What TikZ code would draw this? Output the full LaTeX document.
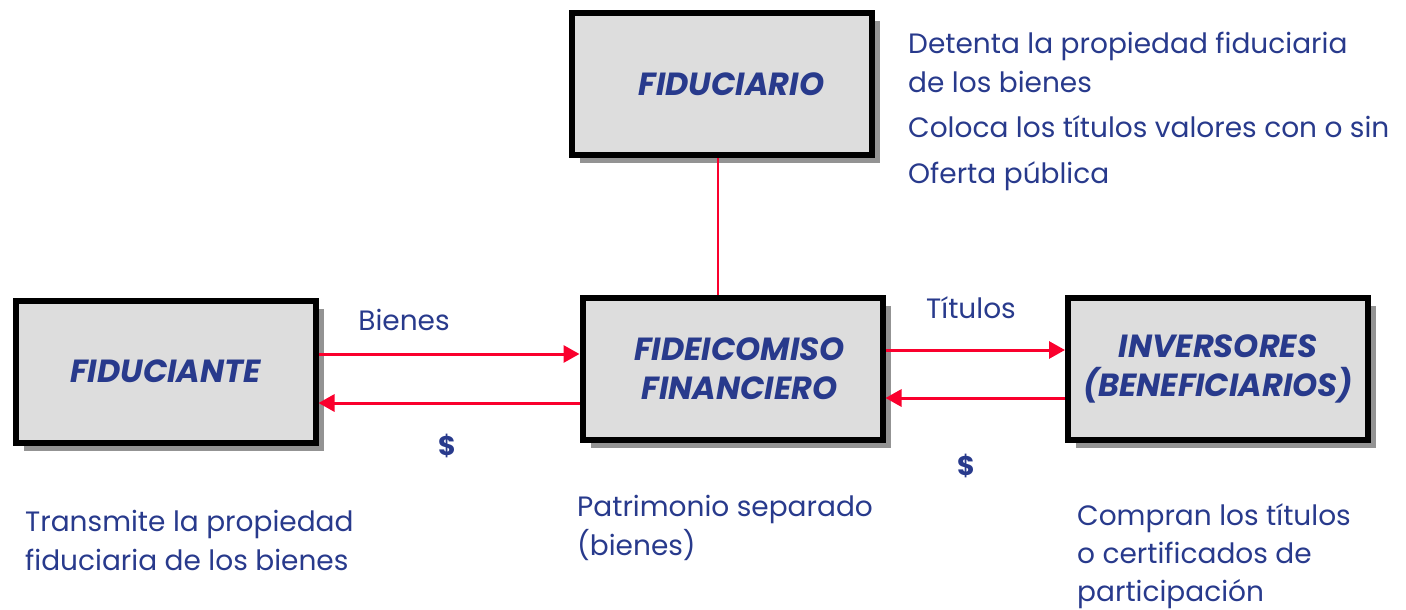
\documentclass[tikz,border=0pt]{standalone}
\usepackage{fontspec}
\setmainfont{Poppins}
\usetikzlibrary{arrows.meta,shadows}
\definecolor{txtblue}{RGB}{40,58,140}
\definecolor{arrred}{RGB}{250,0,45}
\definecolor{boxfill}{RGB}{221,221,221}
\definecolor{shadowgray}{RGB}{147,147,147}
\tikzset{
  entity/.style={draw=black, line width=6pt, fill=boxfill, minimum width=300pt, minimum height=142pt,
    align=center, text=txtblue, font=\fontsize{32}{39}\selectfont\bfseries\itshape,
    drop shadow={shadow xshift=8pt, shadow yshift=-8pt, fill=shadowgray, opacity=1}},
  note/.style={text=txtblue, align=left, anchor=base west, inner sep=0pt, font=\fontsize{28}{39}\selectfont},
  flow/.style={draw=arrred, line width=3pt, -{Triangle[length=16pt,width=17pt]}},
  plain/.style={draw=arrred, line width=2.5pt},
  lbl/.style={text=txtblue, inner sep=0pt, font=\fontsize{28}{30}\selectfont},
  dollar/.style={text=txtblue, inner sep=0pt, font=\fontsize{27}{30}\selectfont\bfseries},
}
\begin{document}
\begin{tikzpicture}[x=1pt,y=-1pt]
\useasboundingbox (0,0) rectangle (1406,610);
\node[entity] (fduciario) at (721.5,84) {\hspace*{20pt}FIDUCIARIO};
\node[entity] (fante) at (165.5,371.5) {FIDUCIANTE};
\node[entity] (fideic) at (732.5,368.5) {\hspace*{14pt}FIDEICOMISO\\\hspace*{14pt}FINANCIERO};
\node[entity] (inv) at (1218,368.5) {INVERSORES\\(BENEFICIARIOS)};

\draw[plain] (fduciario.south -| 718,0) -- (fideic.north -| 718,0);
\draw[flow] ([yshift=17.5pt]fante.east) -- ([yshift=17.5pt]fante.east -| fideic.west);
\draw[flow] ([yshift=-34.5pt]fideic.west) -- ([yshift=-34.5pt]fideic.west -| fante.east);
\draw[flow] ([yshift=18.5pt]fideic.east) -- ([yshift=18.5pt]fideic.east -| inv.west);
\draw[flow] ([yshift=-29.5pt]inv.west) -- ([yshift=-29.5pt]inv.west -| fideic.east);

\node[lbl] (bienes) at (404,320) {Bienes};
\node[dollar] (d1) at (447,446) {\$};
\node[lbl] (titulos) at (971,308) {Títulos};
\node[dollar] (d2) at (966,466) {\$};

\node[note] (n1) at (908,183) {Detenta la propiedad fiduciaria\\de los bienes\\[6pt]Coloca los títulos valores con o sin\\[7pt]Oferta pública};
\node[note] (n2) at (25,570) {Transmite la propiedad\\fiduciaria de los bienes};
\node[note] (n3) at (577,555) {Patrimonio separado\\(bienes)};
\node[note,font=\fontsize{28}{38}\selectfont] (n4) at (1077,601) {Compran los títulos\\o certificados de\\participación};
\end{tikzpicture}
\end{document}
